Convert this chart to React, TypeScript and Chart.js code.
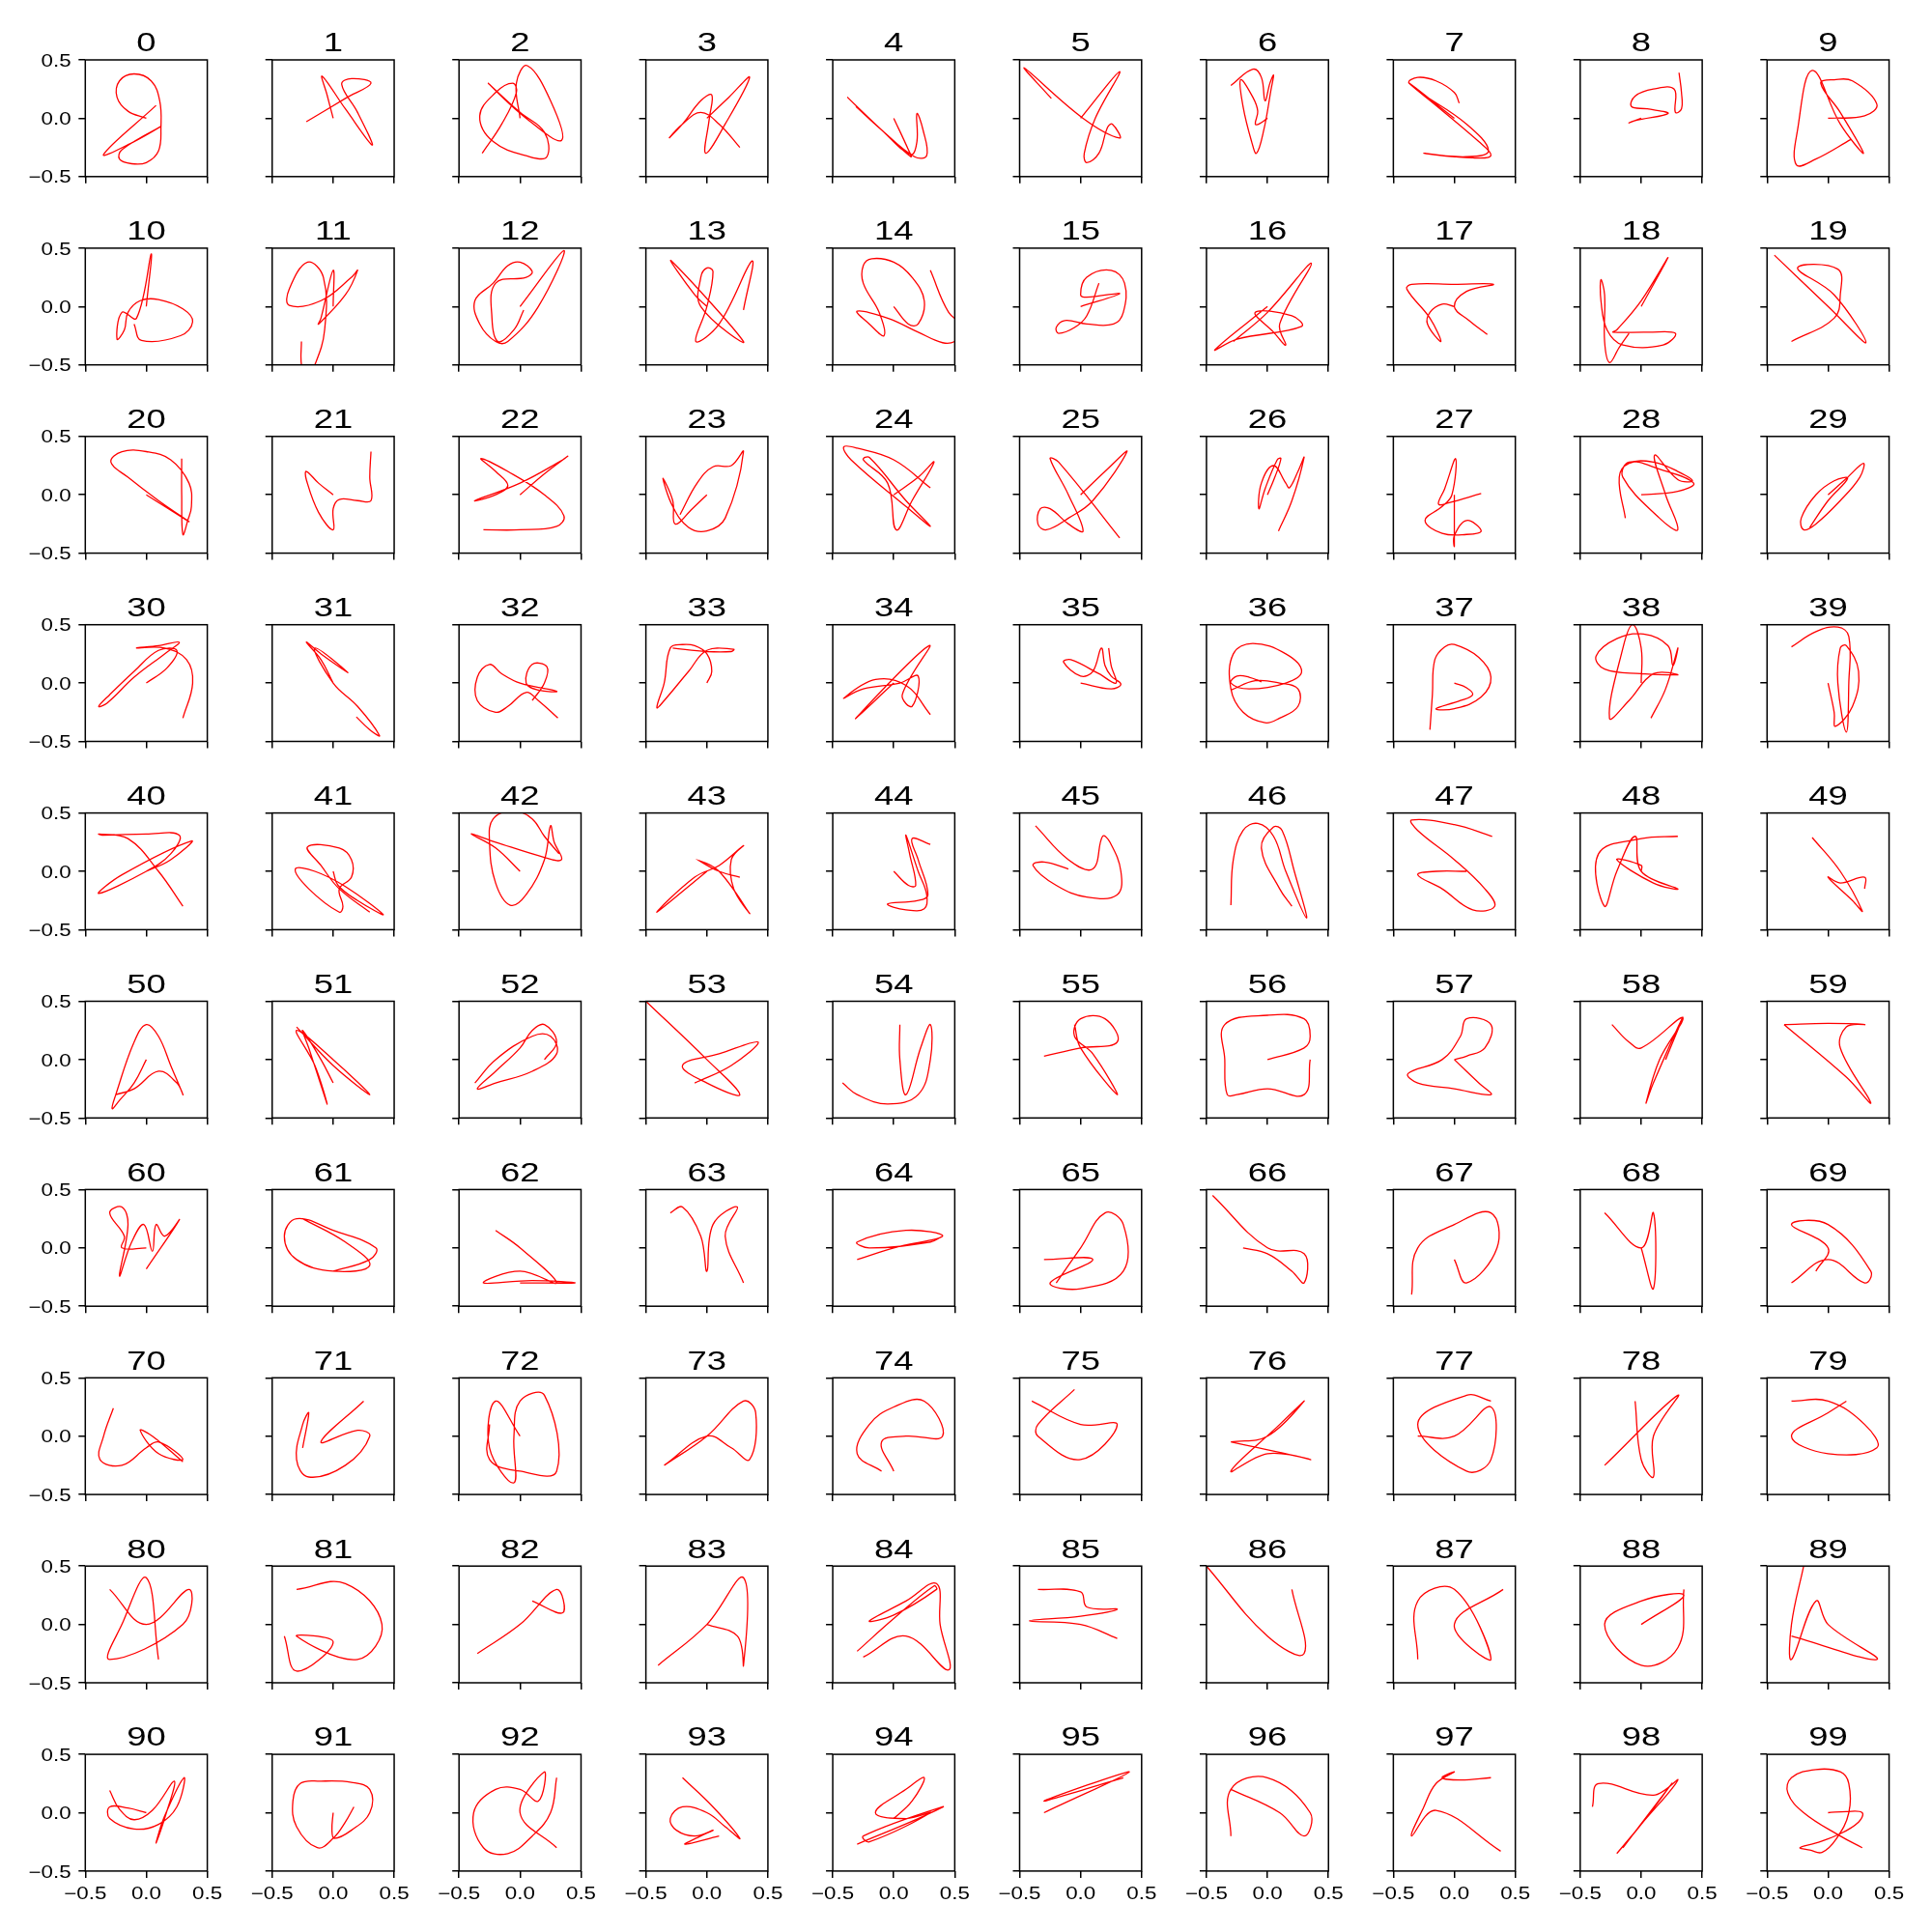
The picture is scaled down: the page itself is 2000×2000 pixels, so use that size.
import React, { useEffect, useRef } from "react";
import { Chart, registerables } from "chart.js";
Chart.register(...registerables);

type P = [number, number][];

const C0: P = [[0,0],[-0.15,0.06],[-0.24,0.18],[-0.22,0.32],[-0.1,0.38],[0.04,0.32],[0.11,0.15],[0.12,-0.08],[0.1,-0.28],[0,-0.38],[-0.12,-0.39],[-0.22,-0.35],[-0.2,-0.27],[0.12,-0.07],[-0.1,-0.2],[-0.35,-0.31],[0.08,0.11]];
const C1: P = [[0,0],[-0.05,0.2],[-0.09,0.36],[0.1,0.08],[0.32,-0.23],[0.2,0.05],[0.07,0.29],[0.15,0.34],[0.31,0.3],[0.1,0.17],[-0.22,-0.03]];
const C2: P = [[-0.31,-0.3],[-0.15,-0.05],[-0.03,0.22],[-0.06,0.3],[-0.2,0.22],[-0.33,0.02],[-0.22,-0.2],[0.08,-0.33],[0.22,-0.33],[0.2,-0.12],[0,0.05],[-0.26,0.3],[0.05,0],[0.34,-0.19],[0.25,0.15],[0.06,0.45],[-0.03,0.3],[0,0]];
const C3: P = [[0,0],[0.18,0.18],[0.35,0.35],[0.15,-0.05],[-0.01,-0.3],[0.02,0],[0.04,0.2],[-0.05,0.15],[-0.2,-0.05],[-0.31,-0.17],[-0.2,-0.05],[-0.05,0.05],[0.1,-0.05],[0.27,-0.25]];
const C4: P = [[0,0],[0.12,-0.27],[0.14,-0.33],[-0.1,-0.1],[-0.38,0.18],[-0.1,-0.1],[0.14,-0.31],[0.19,-0.2],[0.19,0.04],[0.24,-0.1],[0.27,-0.32],[0.17,-0.33],[-0.1,-0.1],[-0.31,0.1]];
const C5: P = [[-0.24,0.17],[-0.46,0.43],[0.02,0],[0.32,-0.17],[0.26,-0.05],[0.22,-0.08],[0.15,-0.3],[0.05,-0.38],[0.03,-0.3],[0.12,0],[0.32,0.4],[0,0]];
const C6: P = [[0,0],[-0.07,-0.05],[-0.1,-0.05],[-0.08,0.06],[-0.12,0.18],[-0.22,0.33],[-0.2,0.1],[-0.13,-0.2],[-0.09,-0.3],[-0.03,-0.1],[0.03,0.25],[0.05,0.37],[0.02,0.3],[-0.02,0.15],[-0.05,0.35],[-0.12,0.42],[-0.3,0.28]];
const C7: P = [[0,0],[-0.37,0.3],[0.2,-0.2],[0.3,-0.32],[0.15,-0.34],[-0.25,-0.3],[0.1,-0.33],[0.28,-0.28],[0.1,-0.05],[-0.37,0.3],[-0.3,0.35],[-0.15,0.32],[0,0.22],[0.04,0.13]];
const C8: P = [[0,0],[-0.1,-0.04],[-0.05,-0.02],[0.22,0.04],[0.05,0.08],[-0.08,0.1],[-0.05,0.19],[0.1,0.25],[0.27,0.25],[0.28,0.05],[0.33,0.08],[0.33,0.22],[0.31,0.39]];
const C9: P = [[0.19,-0.18],[-0.1,-0.35],[-0.26,-0.4],[-0.25,-0.1],[-0.13,0.41],[0.1,-0.05],[0.29,-0.3],[0.1,0.05],[-0.06,0.3],[0.05,0.33],[0.2,0.32],[0.4,0.12],[0.3,0.02],[0,0]];
const C10: P = [[0,0],[0.04,0.45],[-0.08,-0.1],[-0.2,-0.05],[-0.24,-0.28],[-0.18,-0.2],[-0.15,-0.05],[-0.05,0.05],[0.1,0.06],[0.3,-0.02],[0.38,-0.13],[0.28,-0.25],[-0.04,-0.29],[-0.1,-0.15]];
const C11: P = [[0,0],[0,0.31],[-0.1,-0.1],[-0.12,-0.15],[0.1,0.1],[0.2,0.31],[0.15,0.25],[-0.1,0.05],[-0.36,0.01],[-0.36,0.15],[-0.21,0.38],[-0.08,0.25],[-0.07,-0.2],[-0.15,-0.5],[-0.22,-0.6],[-0.26,-0.5],[-0.26,-0.3]];
const C12: P = [[0,0],[0.36,0.48],[0.15,0],[-0.1,-0.3],[-0.2,-0.3],[-0.33,-0.15],[-0.37,0.05],[-0.22,0.2],[-0.1,0.35],[0,0.38],[0.1,0.3],[0.05,0.25],[-0.2,0.2],[-0.23,-0.1],[-0.18,-0.3],[-0.05,-0.2],[0.03,-0.03]];
const C13: P = [[0.3,-0.03],[0.37,0.39],[0.1,-0.15],[-0.09,-0.3],[0,0],[0.05,0.3],[0,0.33],[-0.05,0.25],[-0.05,0],[0.3,-0.3],[-0.29,0.39],[-0.1,0.1],[0,0]];
const C14: P = [[0.3,0.31],[0.45,-0.05],[0.6,-0.2],[0.5,-0.3],[0.4,-0.31],[0.2,-0.22],[-0.05,-0.1],[-0.3,-0.04],[-0.2,-0.15],[-0.08,-0.25],[-0.12,-0.05],[-0.25,0.2],[-0.25,0.35],[-0.18,0.41],[0,0.38],[0.15,0.25],[0.25,0.05],[0.2,-0.15],[0.12,-0.15],[0,0]];
const C15: P = [[0,0],[0.32,0.11],[0.05,0.08],[0,0.1],[0.05,0.25],[0.25,0.31],[0.36,0.2],[0.35,-0.05],[0.27,-0.15],[0.05,-0.15],[-0.13,-0.12],[-0.2,-0.18],[-0.18,-0.23],[-0.05,-0.18],[0.05,-0.08],[0.15,0.2]];
const C16: P = [[0,0],[-0.43,-0.37],[-0.25,-0.28],[0.28,-0.17],[0.2,-0.08],[-0.1,-0.05],[0.05,-0.22],[0.15,-0.33],[0.1,-0.15],[0.36,0.37],[0,-0.05],[-0.28,-0.3]];
const C17: P = [[0,0],[-0.1,0.02],[-0.2,-0.05],[-0.22,-0.15],[-0.11,-0.3],[-0.2,-0.1],[-0.39,0.15],[-0.35,0.19],[0,0.19],[0.32,0.19],[0.1,0.13],[0,0],[0.12,-0.12],[0.27,-0.24]];
const C18: P = [[0,0],[0.22,0.42],[0,0.05],[-0.2,-0.2],[-0.23,-0.22],[0.05,-0.22],[0.28,-0.23],[0.18,-0.33],[-0.15,-0.33],[-0.28,-0.2],[-0.33,0.05],[-0.33,0.23],[-0.3,0.1],[-0.3,-0.3],[-0.26,-0.48],[-0.18,-0.35],[-0.1,-0.23]];
const C19: P = [[-0.3,-0.3],[0.05,-0.1],[0.1,0.1],[0.08,0.32],[-0.25,0.33],[0.05,0.1],[0.31,-0.31],[0,0],[-0.44,0.44]];
const C20: P = [[0,0],[0.35,-0.23],[0.1,-0.05],[-0.15,0.15],[-0.29,0.28],[-0.2,0.37],[0,0.37],[0.2,0.3],[0.35,0.1],[0.37,-0.1],[0.34,-0.22],[0.3,-0.34],[0.29,0],[0.29,0.31]];
const C21: P = [[0,0],[-0.12,0.1],[-0.22,0.2],[-0.22,0.13],[-0.12,-0.15],[0,-0.3],[0,-0.12],[0.05,-0.04],[0.2,-0.05],[0.31,-0.05],[0.3,0.15],[0.31,0.37]];
const C22: P = [[0,0],[0.2,0.18],[0.39,0.33],[0.35,0.3],[0,0.1],[-0.37,-0.05],[-0.2,0],[-0.1,0.08],[-0.2,0.2],[-0.32,0.31],[-0.1,0.2],[0.2,0],[0.36,-0.18],[0.3,-0.27],[0,-0.3],[-0.3,-0.3]];
const C23: P = [[0,0],[-0.12,-0.12],[-0.26,-0.25],[-0.28,-0.05],[-0.36,0.14],[-0.28,-0.1],[-0.15,-0.28],[0,-0.31],[0.15,-0.2],[0.3,0.37],[0.2,0.25],[0.05,0.24],[-0.08,0.1],[-0.22,-0.17]];
const C24: P = [[0.3,0.06],[0,0.3],[-0.3,0.4],[-0.41,0.41],[-0.35,0.3],[0.1,-0.1],[0.3,-0.27],[0.1,-0.05],[-0.2,0.32],[-0.25,0.3],[-0.05,0.1],[0.02,-0.3],[0.15,-0.05],[0.33,0.28],[0.2,0.15],[0,0]];
const C25: P = [[0,0],[0.2,0.2],[0.38,0.37],[0.1,-0.05],[-0.1,-0.2],[-0.28,-0.3],[-0.35,-0.25],[-0.33,-0.12],[-0.25,-0.12],[-0.1,-0.25],[0.02,-0.31],[-0.1,0],[-0.25,0.31],[-0.18,0.28],[0.32,-0.37]];
const C26: P = [[0,0],[0.06,0.15],[0.11,0.31],[0.08,0.3],[-0.02,0.05],[-0.07,-0.12],[-0.05,0.1],[0.05,0.25],[0.15,0.1],[0.18,0.06],[0.25,0.2],[0.3,0.32],[0.2,-0.05],[0.09,-0.31]];
const C27: P = [[0.22,0.01],[-0.05,-0.07],[-0.13,-0.08],[-0.08,0.05],[0.01,0.31],[-0.02,0],[-0.1,-0.1],[-0.24,-0.22],[-0.1,-0.33],[0.1,-0.34],[0.22,-0.31],[0.1,-0.22],[0,-0.35],[0,-0.44],[0,0]];
const C28: P = [[-0.13,-0.2],[-0.18,0.15],[-0.1,0.27],[0.1,0.28],[0.3,0.2],[0.42,0.12],[0.3,0.13],[0.11,0.34],[0.2,0],[0.3,-0.3],[0.15,-0.2],[-0.15,0.15],[-0.1,0.28],[0.15,0.22],[0.43,0.1],[0.3,0.03],[0,0]];
const C29: P = [[0,0],[0.15,0.14],[0.29,0.27],[0.26,0.15],[0.1,-0.05],[-0.1,-0.25],[-0.2,-0.3],[-0.22,-0.2],[-0.1,0],[0.05,0.12],[0.16,0.14],[0,-0.05],[-0.15,-0.28]];
const C30: P = [[0,0],[0.17,0.13],[0.25,0.28],[0.1,0.28],[-0.1,0.1],[-0.3,-0.1],[-0.39,-0.2],[-0.32,-0.17],[-0.1,0.05],[0.15,0.25],[0.27,0.35],[0.1,0.32],[-0.08,0.3],[0.15,0.3],[0.33,0.2],[0.38,0],[0.3,-0.3]];
const C31: P = [[0,0],[-0.1,0.2],[-0.22,0.35],[-0.1,0.25],[0.12,0.09],[-0.15,0.3],[0,0],[0.2,-0.2],[0.38,-0.45],[0.3,-0.4],[0.19,-0.29]];
const C32: P = [[0.31,-0.3],[0.15,-0.15],[0.05,-0.08],[-0.1,-0.2],[-0.2,-0.25],[-0.35,-0.15],[-0.35,0.05],[-0.25,0.16],[-0.15,0.08],[0,0],[0.3,-0.07],[0.15,-0.06],[0.05,0],[0.1,0.16],[0.22,0.14],[0.2,0],[0.1,-0.15]];
const C33: P = [[0,0],[0.04,0.1],[0,0.25],[-0.1,0.32],[-0.2,0.33],[-0.3,0.3],[-0.35,0],[-0.41,-0.21],[-0.35,-0.15],[-0.15,0.1],[0,0.28],[0.22,0.29],[0.2,0.27],[0,0.27],[-0.28,0.3]];
const C34: P = [[0.3,-0.27],[0.1,-0.02],[-0.15,0.03],[-0.41,-0.13],[-0.25,-0.05],[0.05,0],[0.2,0.06],[0.15,-0.2],[0.07,-0.1],[0.29,0.32],[-0.31,-0.3],[0,0]];
const C35: P = [[0,0],[0.25,-0.05],[0.33,-0.01],[0.25,0.06],[0.2,0.15],[0.17,0.3],[0.1,0.1],[0,0.06],[-0.14,0.18],[-0.08,0.2],[0.15,0.08],[0.29,0],[0.25,0.15],[0.23,0.3]];
const C36: P = [[-0.3,-0.06],[-0.1,0.02],[0.1,0],[0.25,-0.05],[0.25,-0.2],[0.1,-0.3],[-0.02,-0.34],[-0.2,-0.25],[-0.3,-0.05],[-0.28,0.25],[-0.12,0.34],[0.15,0.25],[0.28,0.1],[0.15,0],[-0.15,-0.05],[-0.3,0],[-0.25,0.06],[-0.15,0.05],[-0.05,0.01]];
const C37: P = [[-0.2,-0.4],[-0.18,-0.1],[-0.16,0.2],[-0.08,0.31],[0,0.33],[0.2,0.22],[0.3,0.05],[0.22,-0.12],[0,-0.22],[-0.15,-0.22],[0.05,-0.15],[0.15,-0.1],[0.1,-0.04],[0,0]];
const C38: P = [[0,0],[0,0.3],[-0.07,0.5],[-0.15,0.3],[-0.26,-0.3],[-0.1,-0.15],[0.1,0.08],[0.3,0.07],[0,0.08],[-0.3,0.12],[-0.37,0.23],[-0.2,0.38],[0.02,0.42],[0.22,0.32],[0.26,0.15],[0.3,0.3],[0.2,-0.05],[0.08,-0.3]];
const C39: P = [[-0.3,0.31],[-0.1,0.44],[0.08,0.48],[0.17,0.4],[0.17,0],[0.15,-0.42],[0.08,0],[0.1,0.3],[0.15,0.32],[0.25,0.1],[0.2,-0.2],[0.06,-0.37],[0.05,-0.25],[0,0]];
const C40: P = [[0.3,-0.3],[0.1,0],[-0.15,0.28],[-0.39,0.32],[-0.36,0.31],[0,0.32],[0.27,0.31],[0.2,0.15],[0,0],[-0.39,-0.19],[-0.2,-0.03],[0.37,0.26],[0.2,0.1],[0,0]];
const C41: P = [[0,0],[0.04,-0.12],[0.2,-0.25],[0.41,-0.37],[0.1,-0.13],[-0.15,0],[-0.31,0.02],[-0.2,-0.15],[0.05,-0.35],[0.08,-0.3],[0.05,-0.15],[0.15,-0.05],[0.15,0.1],[0.05,0.2],[-0.21,0.21],[-0.1,0.05],[0.05,-0.15],[0.3,-0.35]];
const C42: P = [[0,0],[-0.2,0.2],[-0.4,0.32],[-0.2,0.25],[0.2,0.12],[0.34,0.1],[0.28,0.25],[0.25,0.39],[0.2,0.1],[0.05,-0.2],[-0.08,-0.29],[-0.2,-0.1],[-0.25,0.25],[-0.22,0.45],[-0.05,0.52],[0.1,0.45],[0.2,0.3],[0.32,0.15]];
const C43: P = [[0,0],[-0.41,-0.35],[-0.1,-0.05],[0.1,0.05],[0.3,0.22],[0.2,0.1],[0.22,-0.15],[0.35,-0.36],[0.1,0],[-0.06,0.09],[0.1,0],[0.27,-0.05]];
const C44: P = [[0,0],[0.12,-0.12],[0.18,-0.12],[0.13,0.15],[0.1,0.31],[0.2,0],[0.27,-0.2],[0.25,-0.32],[0.1,-0.33],[-0.05,-0.28],[0.2,-0.25],[0.28,-0.2],[0.2,0.1],[0.15,0.28],[0.3,0.23]];
const C45: P = [[-0.37,0.39],[-0.1,0.1],[0.1,0.02],[0.18,0.3],[0.24,0.25],[0.33,0],[0.3,-0.2],[0.05,-0.22],[-0.2,-0.12],[-0.39,0.05],[-0.3,0.08],[-0.1,0.02]];
const C46: P = [[-0.3,-0.29],[-0.28,0.1],[-0.2,0.35],[-0.08,0.41],[0.05,0.3],[0.15,0],[0.32,-0.4],[0.22,0],[0.12,0.35],[0.05,0.38],[-0.05,0.2],[0.1,-0.15],[0.2,-0.3]];
const C47: P = [[0.31,0.3],[0,0.4],[-0.35,0.44],[-0.3,0.35],[0,0.1],[0.25,-0.15],[0.33,-0.3],[0.15,-0.33],[-0.1,-0.15],[-0.3,-0.03],[-0.15,0],[0.1,0]];
const C48: P = [[0.3,0.3],[0,0.28],[-0.35,0.15],[-0.3,-0.3],[-0.2,0],[-0.05,0.3],[0,0],[0.3,-0.15],[0.1,-0.1],[-0.2,0.1],[0,0.05],[0,0]];
const C49: P = [[-0.13,0.29],[0.1,0],[0.28,-0.34],[0.2,-0.25],[0,-0.05],[0.1,-0.1],[0.3,-0.05],[0.3,-0.15]];
const C50: P = [[0,0],[-0.1,-0.2],[-0.22,-0.35],[-0.28,-0.42],[-0.25,-0.3],[-0.1,0.15],[0,0.3],[0.1,0.2],[0.2,-0.05],[0.3,-0.3],[0.25,-0.2],[0.1,-0.1],[-0.1,-0.25],[-0.25,-0.3]];
const C51: P = [[-0.3,0.28],[0,-0.05],[0.3,-0.3],[0,0],[-0.3,0.25],[-0.15,-0.05],[-0.05,-0.38],[-0.2,0.1],[-0.25,0.25],[-0.1,0],[0,-0.2]];
const C52: P = [[-0.37,-0.2],[-0.2,0],[0.1,0.2],[0.25,0.2],[0.3,0.05],[0.1,-0.1],[-0.2,-0.2],[-0.35,-0.25],[-0.2,-0.1],[0,0.1],[0.1,0.25],[0.2,0.3],[0.3,0.15],[0.2,0]];
const C53: P = [[-0.5,0.5],[0,0],[0.27,-0.3],[0,-0.2],[-0.2,-0.05],[0.1,0.05],[0.42,0.15],[0.2,-0.05],[-0.1,-0.2]];
const C54: P = [[-0.42,-0.2],[-0.3,-0.3],[-0.05,-0.38],[0.2,-0.3],[0.3,0],[0.3,0.3],[0.22,0.1],[0.1,-0.3],[0.05,0],[0.05,0.3]];
const C55: P = [[-0.3,0.03],[0,0.1],[0.3,0.15],[0.2,0.35],[0,0.35],[-0.05,0.2],[0.1,0.05],[0.3,-0.3],[0,0.1],[-0.05,0.3]];
const C56: P = [[0,0],[0.3,0.1],[0.35,0.2],[0.3,0.35],[0,0.38],[-0.35,0.3],[-0.35,0],[-0.33,-0.3],[-0.25,-0.3],[0,-0.25],[0.3,-0.3],[0.35,0]];
const C57: P = [[0,0],[0.1,0.03],[0.25,0.1],[0.3,0.3],[0.1,0.35],[0.05,0.2],[-0.1,0],[-0.38,-0.12],[-0.3,-0.2],[0,-0.25],[0.3,-0.3],[0.2,-0.2],[0,0]];
const C58: P = [[-0.24,0.3],[-0.1,0.15],[0,0.1],[0.34,0.36],[0.15,0],[0.04,-0.37],[0.1,-0.2],[0.34,0.36],[0.2,0]];
const C59: P = [[-0.36,0.3],[0,0.31],[0.3,0.3],[0.15,0.28],[0.1,0.1],[0.35,-0.37],[0.15,-0.15],[-0.36,0.3]];
const C60: P = [[0,0],[-0.2,0],[-0.18,0.1],[-0.3,0.3],[-0.2,0.35],[-0.15,0.2],[-0.22,-0.24],[-0.12,0.05],[-0.02,0.2],[0.05,-0.03],[0.08,0.2],[0.15,0.1],[0.27,0.24],[0,-0.18]];
const C61: P = [[0,-0.2],[0.3,-0.1],[0.35,0],[0,0.15],[-0.3,0.25],[-0.4,0.1],[-0.3,-0.1],[0,-0.2],[0.3,-0.15],[0.1,0.05],[-0.25,0.25]];
const C62: P = [[-0.2,0.15],[0,0],[0.3,-0.3],[0,-0.2],[-0.3,-0.3],[0.1,-0.28],[0.45,-0.3],[0,-0.3]];
const C63: P = [[-0.3,0.3],[-0.2,0.35],[-0.05,0.1],[0,-0.2],[0.05,0.2],[0.25,0.35],[0.15,0.1],[0.3,-0.3]];
const C64: P = [[-0.3,-0.1],[0,0],[0.4,0.1],[0.1,0.15],[-0.3,0.05],[-0.2,0],[0.3,0.05],[0.4,0.1]];
const C65: P = [[-0.3,-0.1],[0.1,-0.1],[-0.25,-0.3],[0,-0.35],[0.35,-0.2],[0.35,0.2],[0.2,0.3],[0,0],[-0.2,-0.3]];
const C66: P = [[-0.45,0.45],[0,0],[0.3,-0.05],[0.3,-0.3],[0.2,-0.2],[0,-0.05],[-0.2,0]];
const C67: P = [[-0.35,-0.4],[-0.3,0],[0,0.2],[0.3,0.3],[0.35,0],[0.1,-0.3],[0,-0.1]];
const C68: P = [[-0.3,0.3],[0,0],[0.1,0.3],[0.1,-0.35],[0,0]];
const C69: P = [[-0.3,-0.3],[0,-0.1],[0.3,-0.3],[0.35,-0.2],[0,0.2],[-0.3,0.2],[0,0],[-0.1,-0.2]];
const C70: P = [[-0.27,0.24],[-0.35,0],[-0.38,-0.2],[-0.2,-0.25],[0,-0.1],[0.1,-0.05],[0.3,-0.2],[0.1,-0.15],[-0.05,0.05],[0.05,0],[0.3,-0.22]];
const C71: P = [[-0.25,-0.1],[-0.2,0.2],[-0.25,0.1],[-0.3,-0.2],[-0.2,-0.35],[0.1,-0.25],[0.3,0],[0.2,0.05],[-0.1,-0.05],[0.25,0.3]];
const C72: P = [[0,0],[-0.2,0.3],[-0.25,-0.1],[-0.05,-0.4],[-0.05,0],[0,0.3],[0.2,0.35],[0.3,-0.3],[0,-0.3],[-0.25,-0.2],[-0.25,0.1]];
const C73: P = [[-0.35,-0.25],[0,0],[0.3,0.3],[0.4,0.2],[0.35,-0.2],[0.2,-0.1],[0,0],[-0.35,-0.25]];
const C74: P = [[-0.1,-0.3],[-0.3,-0.15],[-0.2,0.1],[0,0.25],[0.25,0.3],[0.4,0],[0.1,0],[-0.1,-0.05],[0,-0.3]];
const C75: P = [[-0.05,0.4],[-0.35,0.1],[-0.35,0],[0,-0.2],[0.3,0.1],[0,0.1],[-0.4,0.3]];
const C76: P = [[-0.3,-0.05],[0,0],[0.3,0.3],[0.1,0.1],[-0.3,-0.3],[0,-0.15],[0.35,-0.2],[-0.3,-0.05]];
const C77: P = [[-0.3,0],[0,0],[0.3,0.25],[0.3,-0.2],[0.1,-0.3],[-0.3,0.1],[0.1,0.35],[0.3,0.3]];
const C78: P = [[-0.3,-0.25],[0.3,0.35],[0.1,0],[0.1,-0.35],[0,-0.2],[-0.05,0.3]];
const C79: P = [[-0.3,0.3],[0,0.3],[0.3,0.1],[0.4,-0.1],[0,-0.15],[-0.3,0],[0,0.2],[0.15,0.3]];
const C80: P = [[-0.3,0.3],[0,0],[0.35,0.3],[0.3,0],[-0.3,-0.3],[-0.2,0],[0,0.4],[0.1,-0.3]];
const C81: P = [[-0.3,0.3],[0.1,0.35],[0.4,0],[0.2,-0.3],[-0.3,-0.1],[0,-0.15],[-0.3,-0.4],[-0.4,-0.1]];
const C82: P = [[-0.35,-0.25],[0,0],[0.3,0.3],[0.35,0.1],[0.1,0.2]];
const C83: P = [[-0.4,-0.35],[0,0],[0.3,0.4],[0.3,-0.35],[0.25,-0.1],[0,0]];
const C84: P = [[-0.3,-0.23],[0,0.05],[0.33,0.33],[0.35,0.3],[0,0.08],[-0.2,0.03],[0.1,0.2],[0.35,0.35],[0.38,0],[0.45,-0.39],[0.1,-0.1],[-0.25,-0.28]];
const C85: P = [[-0.35,0.3],[0,0.28],[0.05,0.15],[0.3,0.13],[0,0.07],[-0.42,0.03],[0,0],[0.3,-0.12]];
const C86: P = [[-0.5,0.5],[0,-0.1],[0.3,-0.25],[0.2,0.3]];
const C87: P = [[-0.3,-0.3],[-0.3,0.2],[0,0.3],[0.3,-0.3],[0,0],[0.4,0.3]];
const C88: P = [[0.35,0.3],[0.3,-0.2],[0,-0.35],[-0.3,0],[0,0.2],[0.35,0.25],[0,0]];
const C89: P = [[-0.2,0.5],[-0.3,0],[-0.3,-0.3],[-0.1,0.2],[0,0],[0.4,-0.3],[-0.3,-0.1]];
const C90: P = [[-0.3,0.19],[-0.22,0.03],[-0.1,-0.06],[0.05,0.02],[0.23,0.27],[0.15,-0.05],[0.08,-0.26],[0.15,-0.03],[0.31,0.3],[0.25,0.05],[0.1,-0.1],[-0.1,-0.14],[-0.3,-0.05],[-0.3,0.05],[-0.15,0.04],[0,0]];
const C91: P = [[0,0],[-0.01,-0.15],[0.01,-0.22],[0.15,-0.15],[0.3,0],[0.3,0.2],[0.15,0.26],[-0.1,0.27],[-0.27,0.25],[-0.33,0.1],[-0.3,-0.12],[-0.13,-0.3],[0,-0.22],[0.1,-0.08],[0.17,0.05]];
const C92: P = [[0.3,-0.3],[0,0],[0.2,0.35],[0.15,0.1],[0,0.2],[-0.2,0.2],[-0.38,0],[-0.3,-0.3],[-0.1,-0.35],[0.1,-0.2],[0.25,0],[0.3,0.3]];
const C93: P = [[-0.2,0.3],[0.05,0.05],[0.27,-0.22],[0.15,-0.12],[0,0],[-0.2,0.05],[-0.3,-0.05],[-0.25,-0.15],[-0.1,-0.2],[0.05,-0.15],[-0.05,-0.2],[-0.18,-0.27],[0.1,-0.2]];
const C94: P = [[-0.3,-0.27],[0.2,-0.05],[0.4,0.05],[-0.25,-0.2],[-0.2,-0.25],[0.3,0],[0.1,-0.05],[-0.15,0],[0.1,0.2],[0.25,0.3],[0.15,0.1],[0,-0.05]];
const C95: P = [[-0.3,0],[0.4,0.35],[-0.3,0.1],[0.35,0.3]];
const C96: P = [[-0.3,-0.2],[-0.3,0.2],[0,0.3],[0.35,0],[0.3,-0.2],[0.1,0],[-0.3,0.2]];
const C97: P = [[0.38,-0.33],[-0.15,0.02],[-0.35,-0.2],[-0.25,0.05],[-0.15,0.25],[0,0.35],[-0.1,0.3],[0.05,0.28],[0.3,0.3]];
const C98: P = [[-0.4,0.05],[-0.35,0.25],[0.1,0.15],[0.3,0.28],[0,-0.1],[-0.2,-0.35],[0,-0.1],[0.25,0.25],[-0.15,-0.3]];
const C99: P = [[0,0],[0.15,0.01],[0.28,0],[0.25,-0.08],[0.1,-0.18],[-0.1,-0.26],[-0.23,-0.3],[-0.15,-0.32],[-0.05,-0.34],[0.07,-0.22],[0.17,0],[0.17,0.25],[0.1,0.35],[-0.1,0.37],[-0.3,0.3],[-0.33,0.17],[-0.2,0],[0.1,-0.2],[0.28,-0.3]];

const CURVES: P[] = [C0,C1,C2,C3,C4,C5,C6,C7,C8,C9,C10,C11,C12,C13,C14,C15,C16,C17,C18,C19,C20,C21,C22,C23,C24,C25,C26,C27,C28,C29,C30,C31,C32,C33,C34,C35,C36,C37,C38,C39,C40,C41,C42,C43,C44,C45,C46,C47,C48,C49,C50,C51,C52,C53,C54,C55,C56,C57,C58,C59,C60,C61,C62,C63,C64,C65,C66,C67,C68,C69,C70,C71,C72,C73,C74,C75,C76,C77,C78,C79,C80,C81,C82,C83,C84,C85,C86,C87,C88,C89,C90,C91,C92,C93,C94,C95,C96,C97,C98,C99];
const TITLES: string[] = CURVES.map((_, i) => String(i));
const X_TICKS = [-0.5, 0, 0.5];
const Y_TICKS = [-0.5, 0, 0.5];

const AX_LEFT0 = 88.3, AX_DX = 193.44, AX_W = 126.3;
const AX_TOP0 = 62.0, AX_DY = 194.9, AX_H = 120.8;
const FONT = "'Liberation Sans', Arial, Helvetica, sans-serif";
const TITLE_SX = 1.3, TICK_SX = 1.24;

function fmt(v: number): string {
  return (v < 0 ? "\u2212" : "") + Math.abs(v).toFixed(1);
}

function drawStretched(ctx: CanvasRenderingContext2D, s: string, x: number, y: number, sx: number) {
  ctx.save();
  ctx.translate(x, y);
  ctx.scale(sx, 1);
  ctx.fillText(s, 0, 0);
  ctx.restore();
}

function Panel({ idx }: { idx: number }) {
  const ref = useRef<HTMLCanvasElement | null>(null);
  const r = Math.floor(idx / 10), c = idx % 10;
  const axL = AX_LEFT0 + c * AX_DX, axT = AX_TOP0 + r * AX_DY;
  const cl = Math.floor(axL - 80), ct = Math.floor(axT - 50);
  const yw = axL - cl;
  const padTop = axT - ct;
  const cw = Math.ceil(yw + AX_W + 24);
  const ch = Math.ceil(padTop + AX_H + 45);
  const xh = ch - padTop - AX_H;
  const pr = cw - yw - AX_W;
  useEffect(() => {
    const showX = r === 9, showY = c === 0;
    const framePlugin = {
      id: "frameAndText",
      afterDraw(chart: any) {
        const { ctx, chartArea: a, scales } = chart;
        ctx.save();
        ctx.strokeStyle = "#000";
        ctx.lineWidth = 1.5;
        ctx.strokeRect(a.left, a.top, a.right - a.left, a.bottom - a.top);
        ctx.fillStyle = "#000";
        ctx.textBaseline = "alphabetic";
        ctx.font = `28px ${FONT}`;
        ctx.textAlign = "center";
        drawStretched(ctx, TITLES[idx], (a.left + a.right) / 2, a.top - 8.7, TITLE_SX);
        ctx.font = `18px ${FONT}`;
        if (showY) {
          ctx.textAlign = "right";
          for (const v of Y_TICKS) drawStretched(ctx, fmt(v), a.left - 14.7, scales.y.getPixelForValue(v) + 6.6, TICK_SX);
        }
        if (showX) {
          ctx.textAlign = "center";
          for (const v of X_TICKS) drawStretched(ctx, fmt(v), scales.x.getPixelForValue(v), a.bottom + 29.3, TICK_SX);
        }
        ctx.restore();
      },
    };
    const grid = { drawOnChartArea: false, drawTicks: true, tickLength: 7, tickWidth: 1.5, tickColor: "#000", color: "#000", lineWidth: 1.5 };
    const chart = new Chart(ref.current as HTMLCanvasElement, {
      type: "scatter",
      data: {
        datasets: [{
          data: CURVES[idx].map(([x, y]) => ({ x, y })),
          showLine: true, borderColor: "#ff0000", borderWidth: 1.3,
          pointRadius: 0, tension: 0.4, fill: false,
        }],
      },
      options: {
        animation: false, responsive: false, devicePixelRatio: 1, events: [],
        layout: { padding: { top: padTop, left: 0, right: pr, bottom: 0 } },
        plugins: { legend: { display: false }, tooltip: { enabled: false }, title: { display: false } },
        scales: {
          x: {
            type: "linear", min: -0.5, max: 0.5,
            afterBuildTicks: (s: any) => { s.ticks = X_TICKS.map((v) => ({ value: v })); },
            afterFit: (s: any) => { s.height = xh; },
            grid, border: { display: false },
            ticks: { display: false, autoSkip: false, maxRotation: 0 },
          },
          y: {
            type: "linear", min: -0.5, max: 0.5,
            afterBuildTicks: (s: any) => { s.ticks = Y_TICKS.map((v) => ({ value: v })); },
            afterFit: (s: any) => { s.width = yw; },
            grid, border: { display: false },
            ticks: { display: false, autoSkip: false },
          },
        },
      } as any,
      plugins: [framePlugin],
    });
    return () => chart.destroy();
  }, []);
  return <canvas ref={ref} width={cw} height={ch} style={{ position: "absolute", left: cl, top: ct, width: cw, height: ch }} />;
}

export default function App() {
  return (
    <div style={{ position: "absolute", left: 0, top: 0, width: 2000, height: 2000, background: "#fff" }}>
      {CURVES.map((_, i) => <Panel key={i} idx={i} />)}
    </div>
  );
}
